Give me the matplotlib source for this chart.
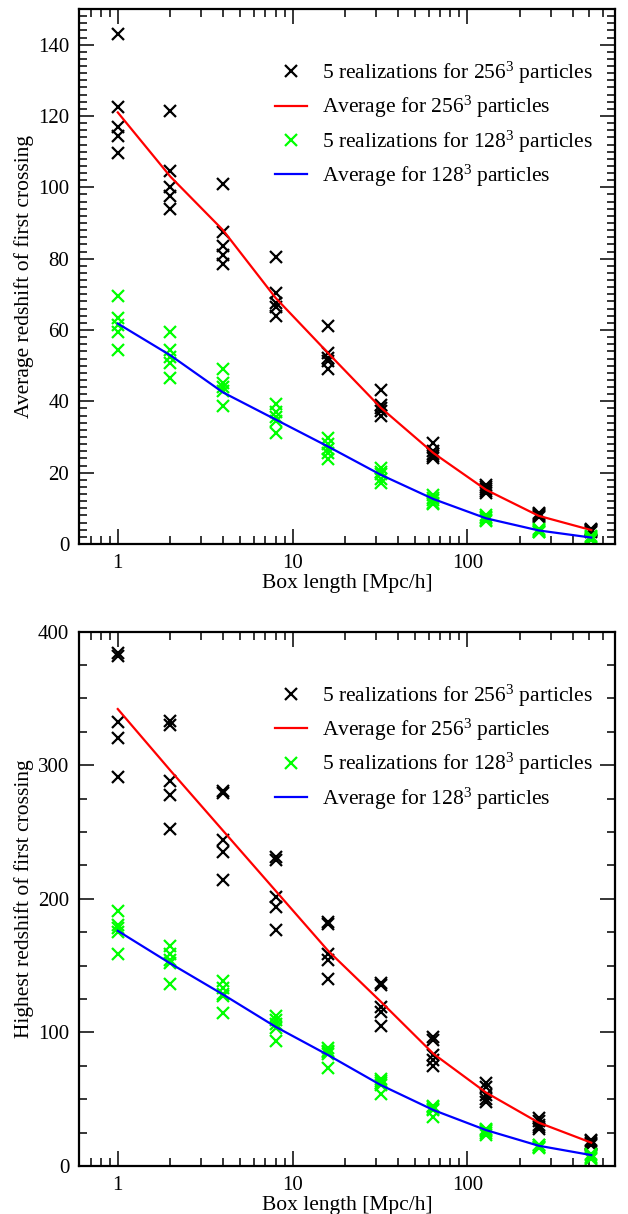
import numpy as np
import matplotlib
matplotlib.use("Agg")
import matplotlib.pyplot as plt
from matplotlib.ticker import MultipleLocator, LogLocator, NullFormatter

plt.rcParams['font.family'] = ['Liberation Serif', 'DejaVu Serif']
plt.rcParams['mathtext.fontset'] = 'custom'
plt.rcParams['mathtext.rm'] = 'Liberation Serif'
plt.rcParams['mathtext.it'] = 'Liberation Serif:italic'

# -----------------------------
# DATA
# -----------------------------
box = [1, 2, 4, 8, 16, 32, 64, 128, 256, 512]

# top panel: average redshift of first crossing
avg_runs_256 = [
    [143, 122.5, 116.8, 114.3, 109.7],
    [121.5, 104.5, 100, 97.5, 94],
    [100.8, 87.5, 83.5, 81, 78.4],
    [80.5, 70.5, 67.5, 66.5, 64],
    [61, 53.6, 52.2, 51.2, 49],
    [43.2, 39, 38, 37.2, 35.8],
    [28.2, 26, 25.3, 24.8, 24.1],
    [16.5, 16, 15.4, 14.9, 14.4],
    [8.6, 8.3, 8, 7.8, 7.6],
    [4.3, 4, 3.8, 3.6, 3.5],
]
avg_mean_256 = [121, 103, 88, 69, 53.5, 38.2, 25.5, 15.2, 7.9, 3.9]

avg_runs_128 = [
    [69.5, 63.5, 61.5, 59.5, 54.5],
    [59.3, 54.3, 52.5, 50.8, 46.6],
    [49, 45, 44, 42.8, 38.8],
    [39.3, 37, 35.5, 34.5, 31],
    [29.7, 28, 26.5, 25.5, 23.8],
    [21.2, 20.3, 19.5, 18.3, 17.2],
    [13.8, 13, 12.3, 11.6, 11.2],
    [8.1, 7.5, 7.2, 6.8, 6.5],
    [4.2, 3.9, 3.7, 3.5, 3.3],
    [2.2, 1.9, 1.6, 1.4, 1.2],
]
avg_mean_128 = [61.8, 52.9, 42.5, 34.9, 27.3, 19.4, 12.6, 7.2, 3.8, 1.8]

# bottom panel: highest redshift of first crossing
high_runs_256 = [
    [384, 381.5, 332.5, 320, 291],
    [333, 330, 288.5, 277.5, 252.5],
    [281, 279, 244, 235, 214],
    [231, 229, 201, 194, 177],
    [183, 181, 159, 154, 140],
    [137, 135.5, 119, 115.5, 105],
    [96.5, 94, 83, 79.5, 74.5],
    [62, 59.5, 53, 50.5, 48],
    [36, 34, 31, 29, 27.5],
    [19.5, 18.5, 17.5, 16.5, 15.5],
]
high_mean_256 = [342, 296, 251, 206, 161, 123, 84, 55, 32.5, 17.5]

high_runs_128 = [
    [191, 180.5, 178, 175, 158.5],
    [164.5, 159, 154.5, 152, 136.5],
    [138.5, 133.5, 129, 127, 114.5],
    [112, 109, 106, 103.5, 93.5],
    [88, 86, 85, 83.5, 73],
    [65.5, 64, 62.5, 61, 54],
    [45, 44, 43, 42, 37],
    [28, 27, 26, 24.5, 23],
    [16, 15.5, 14.5, 14, 13.5],
    [9, 8, 7, 6, 5],
]
high_mean_128 = [176, 151.6, 128.4, 104.2, 83, 60.6, 41.9, 26.9, 15.2, 8.2]

labels = [r"5 realizations for 256$^3$ particles",
          r"Average for 256$^3$ particles",
          r"5 realizations for 128$^3$ particles",
          r"Average for 128$^3$ particles"]

# -----------------------------
# FIGURE
# -----------------------------
fig = plt.figure(figsize=(6.28, 12.14), dpi=100)
ax1 = fig.add_axes([0.1258, 0.5519, 0.8535, 0.4407])
ax2 = fig.add_axes([0.1258, 0.0395, 0.8535, 0.4403])

FS = 15.5


def draw_panel(ax, runs256, mean256, runs128, mean128, ymax, major, minor, ylabel):
    xs = np.repeat(box, 5)
    ax.plot(xs, np.ravel(runs256), ls='none', marker='x', ms=8, mew=1.6,
            color='black', label=labels[0])
    ax.plot(box, mean256, color='#ff0000', lw=1.6, label=labels[1])
    ax.plot(xs, np.ravel(runs128), ls='none', marker='x', ms=8, mew=1.6,
            color='#00ff00', label=labels[2])
    ax.plot(box, mean128, color='#0000ff', lw=1.6, label=labels[3])

    ax.set_xscale('log')
    ax.set_xlim(0.6, 700)
    ax.set_ylim(0, ymax)
    ax.set_xticks([1, 10, 100])
    ax.set_xticklabels(['1', '10', '100'])
    ax.xaxis.set_minor_locator(LogLocator(base=10, subs=np.arange(2, 10)))
    ax.xaxis.set_minor_formatter(NullFormatter())
    ax.yaxis.set_major_locator(MultipleLocator(major))
    ax.yaxis.set_minor_locator(MultipleLocator(minor))

    ax.tick_params(which='both', direction='in', top=True, right=True,
                   labelsize=15, width=1.1)
    ax.tick_params(which='major', length=11, pad=7)
    ax.tick_params(which='minor', length=5.5)
    for s in ax.spines.values():
        s.set_linewidth(1.6)

    ax.set_xlabel("Box length [Mpc/h]", fontsize=FS, labelpad=1)
    ax.set_ylabel(ylabel, fontsize=FS, labelpad=3)

    ax.legend(loc='upper left', bbox_to_anchor=(0.365, 0.905), frameon=False,
              fontsize=FS, borderpad=0, borderaxespad=0, handlelength=1.5,
              handletextpad=0.7, labelspacing=0.38, numpoints=1)


draw_panel(ax1, avg_runs_256, avg_mean_256, avg_runs_128, avg_mean_128,
           150, 20, 2, "Average redshift of first crossing")
draw_panel(ax2, high_runs_256, high_mean_256, high_runs_128, high_mean_128,
           400, 100, 25, "Highest redshift of first crossing")

fig.savefig("out.png", dpi=100)
